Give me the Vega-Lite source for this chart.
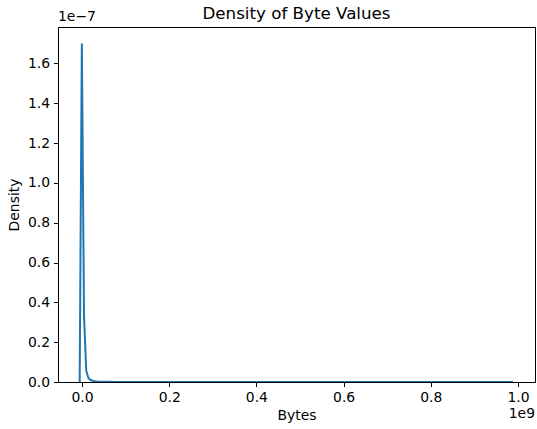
{
  "$schema": "https://vega.github.io/schema/vega-lite/v6.json",
  "width": 477,
  "height": 355,
  "autosize": {"type": "none"},
  "padding": {"left": 58, "top": 27, "right": 2, "bottom": 47},
  "background": "white",
  "config": {
    "font": "DejaVu Sans",
    "view": {"stroke": "black", "strokeWidth": 1},
    "axis": {"grid": false, "domainColor": "black", "tickColor": "black", "labelColor": "black", "titleColor": "black", "labelFont": "DejaVu Sans", "titleFont": "DejaVu Sans", "labelFontSize": 13.9, "titleFontSize": 13.9, "titleFontWeight": "normal", "tickSize": 4.5, "labelPadding": 4, "zindex": 1}
  },
  "title": {"text": "Density of Byte Values", "font": "DejaVu Sans", "fontSize": 16.7, "fontWeight": "normal", "color": "black", "anchor": "middle", "offset": -13},
  "data": {"values": [
    {"bytes": -5300000, "density": 0.0},
    {"bytes": -300000, "density": 1.70e-7},
    {"bytes": 4700000, "density": 0.33e-7},
    {"bytes": 9700000, "density": 0.058e-7},
    {"bytes": 14700000, "density": 0.02e-7},
    {"bytes": 19700000, "density": 0.01e-7},
    {"bytes": 24700000, "density": 0.006e-7},
    {"bytes": 29700000, "density": 0.004e-7},
    {"bytes": 34700000, "density": 0.003e-7},
    {"bytes": 44700000, "density": 0.0018e-7},
    {"bytes": 59700000, "density": 0.001e-7},
    {"bytes": 79700000, "density": 0.0005e-7},
    {"bytes": 109700000, "density": 0.0002e-7},
    {"bytes": 159700000, "density": 0.0001e-7},
    {"bytes": 209700000, "density": 0.00005e-7},
    {"bytes": 309700000, "density": 0.00002e-7},
    {"bytes": 509700000, "density": 0.00001e-7},
    {"bytes": 709700000, "density": 0.00001e-7},
    {"bytes": 909700000, "density": 0.00001e-7},
    {"bytes": 989000000, "density": 0.0}
  ]},
  "layer": [
    {
      "mark": {"type": "line", "color": "#1f77b4", "strokeWidth": 2, "clip": true},
      "encoding": {
        "x": {"field": "bytes", "type": "quantitative", "scale": {"domain": [-55000000, 1039000000], "nice": false, "zero": false},
              "axis": {"title": "Bytes", "values": [0, 200000000, 400000000, 600000000, 800000000, 1000000000], "labelExpr": "format(datum.value/1e9, '.1f')", "titlePadding": 4, "labelOverlap": false, "labelFlush": false, "labelBound": false}},
        "y": {"field": "density", "type": "quantitative", "scale": {"domain": [0, 1.783e-7], "nice": false},
              "axis": {"title": "Density", "values": [0, 2e-8, 4e-8, 6e-8, 8e-8, 1e-7, 1.2e-7, 1.4e-7, 1.6e-7], "labelExpr": "format(datum.value/1e-7, '.1f')", "titlePadding": 6, "labelOverlap": false, "labelFlush": false}}
      }
    },
    {
      "data": {"values": [{"label": "1e\u22127", "x": -55000000, "y": 1.783e-7}]},
      "mark": {"type": "text", "align": "left", "baseline": "bottom", "dy": -3, "fontSize": 13.9, "font": "DejaVu Sans", "color": "black"},
      "encoding": {
        "x": {"field": "x", "type": "quantitative"},
        "y": {"field": "y", "type": "quantitative"},
        "text": {"field": "label"}
      }
    },
    {
      "data": {"values": [{"label": "1e9", "x": 1039000000, "y": 0}]},
      "mark": {"type": "text", "align": "right", "baseline": "top", "dy": 25, "fontSize": 13.9, "font": "DejaVu Sans", "color": "black"},
      "encoding": {
        "x": {"field": "x", "type": "quantitative"},
        "y": {"field": "y", "type": "quantitative"},
        "text": {"field": "label"}
      }
    }
  ]
}
